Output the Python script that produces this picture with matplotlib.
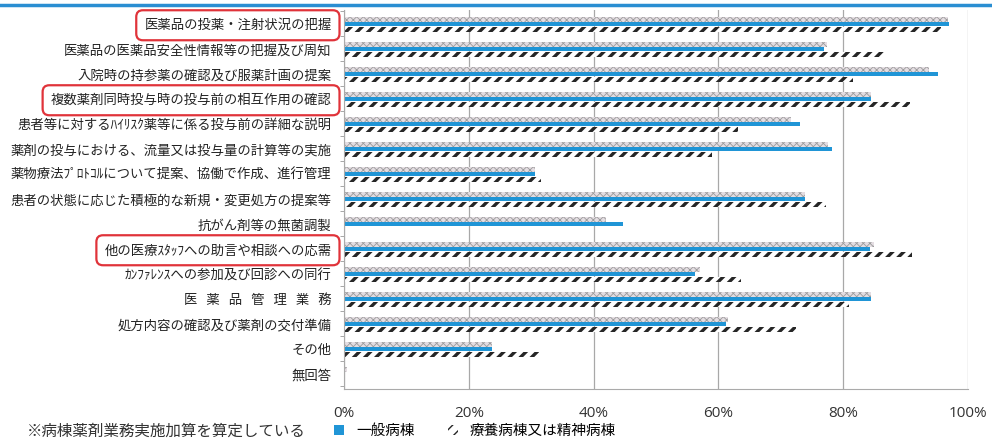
import matplotlib
matplotlib.use("Agg")
import matplotlib.pyplot as plt
import numpy as np
from matplotlib.patches import Patch
from matplotlib.lines import Line2D

plt.rcParams['font.family'] = ['Noto Sans CJK JP', 'DejaVu Sans']

# 業務項目
categories = [
    "医薬品の投薬・注射状況の把握",
    "医薬品の医薬品安全性情報等の把握及び周知",
    "入院時の持参薬の確認及び服薬計画の提案",
    "複数薬剤同時投与時の投与前の相互作用の確認",
    "患者等に対するﾊｲﾘｽｸ薬等に係る投与前の詳細な説明",
    "薬剤の投与における、流量又は投与量の計算等の実施",
    "薬物療法ﾌﾟﾛﾄｺﾙについて提案、協働で作成、進行管理",
    "患者の状態に応じた積極的な新規・変更処方の提案等",
    "抗がん剤等の無菌調製",
    "他の医療ｽﾀｯﾌへの助言や相談への応需",
    "ｶﾝﾌｧﾚﾝｽへの参加及び回診への同行",
    "医   薬   品   管   理   業   務",
    "処方内容の確認及び薬剤の交付準備",
    "その他",
    "無回答",
]
highlighted = [0, 3, 9]

# 値 (%)
zentai = [96.8, 77.4, 93.7, 84.5, 71.7, 77.5, 30.6, 73.8, 42.0, 84.9, 57.0, 84.5, 61.5, 23.7, 0.5]
ippan = [97.0, 77.0, 95.2, 84.5, 73.0, 78.2, 30.6, 73.8, 44.7, 84.3, 56.3, 84.4, 61.2, 23.7, 0.0]
ryoyo = [95.7, 86.5, 81.5, 90.7, 63.2, 59.0, 31.5, 77.3, 0.0, 91.0, 63.7, 81.0, 72.4, 31.3, 0.0]

xticks = [0, 20, 40, 60, 80, 100]

fig = plt.figure(figsize=(9.92, 4.38), dpi=100)
ax = fig.add_axes([344 / 992, 1 - 389 / 438, 624 / 992, 379 / 438])

y = np.arange(len(categories))

b1 = ax.barh(y - 0.18, zentai, height=0.18, color='#e4dde2', edgecolor='#9c9c9c',
             hatch='xxxxx', linewidth=0)
b2 = ax.barh(y, ippan, height=0.17, color='#2095d6', linewidth=0)
b3 = ax.barh(y + 0.22, ryoyo, height=0.18, color='white', edgecolor='#262626',
             hatch='///', linewidth=0)
for p in b3:
    if hasattr(p, 'set_hatch_linewidth'):
        p.set_hatch_linewidth(2.4)
for p in b1:
    if hasattr(p, 'set_hatch_linewidth'):
        p.set_hatch_linewidth(0.6)

ax.set_xlim(0, 100)
ax.set_ylim(14.61, -0.55)
ax.set_xticks(xticks)
ax.set_xticklabels([f"{t}%" for t in xticks], fontsize=11, family=['Open Sans', 'DejaVu Sans'],
                   color='#333333')
ax.set_yticks(y)
ax.set_yticklabels(categories, fontsize=9.6, color='#222222')
ax.set_yticks(np.arange(len(categories) + 1) - 0.5, minor=True)
ax.tick_params(axis='y', which='major', length=0, pad=9)
ax.tick_params(axis='y', which='minor', length=3, color='#999999', direction='out')
ax.tick_params(axis='x', length=0, pad=12)

# 赤枠の強調
for i in highlighted:
    ax.get_yticklabels()[i].set_bbox(dict(boxstyle='round,pad=0.6,rounding_size=0.5',
                                          fc='none', ec='#e0333a', lw=1.6))

ax.grid(axis='x', color='#a8a8a8', lw=0.9)
ax.set_axisbelow(True)
for s in ['top', 'right']:
    ax.spines[s].set_visible(False)
ax.spines['left'].set_color('#aaaaaa')
ax.spines['bottom'].set_color('#aaaaaa')

# 上部の青線
fig.add_artist(Line2D([0, 1], [1 - 5 / 438, 1 - 5 / 438], color='#2a8ed2', lw=2.5))

# 凡例
handles = [Patch(facecolor='#2095d6', edgecolor='none'),
           Patch(facecolor='white', edgecolor='#262626', hatch='///', linewidth=0)]
fig.legend(handles, ['一般病棟', '療養病棟又は精神病棟'], loc='center left',
           bbox_to_anchor=(334 / 992, 1 - 431 / 438), ncol=2, frameon=False,
           fontsize=10.5, handlelength=0.7, handleheight=0.7, handletextpad=0.8,
           columnspacing=2.3, borderpad=0, borderaxespad=0)
fig.text(27 / 992, 1 - 431 / 438, '※病棟薬剤業務実施加算を算定している', fontsize=11.2,
         va='center', ha='left', color='#333333')

fig.savefig('out.png', dpi=100)
